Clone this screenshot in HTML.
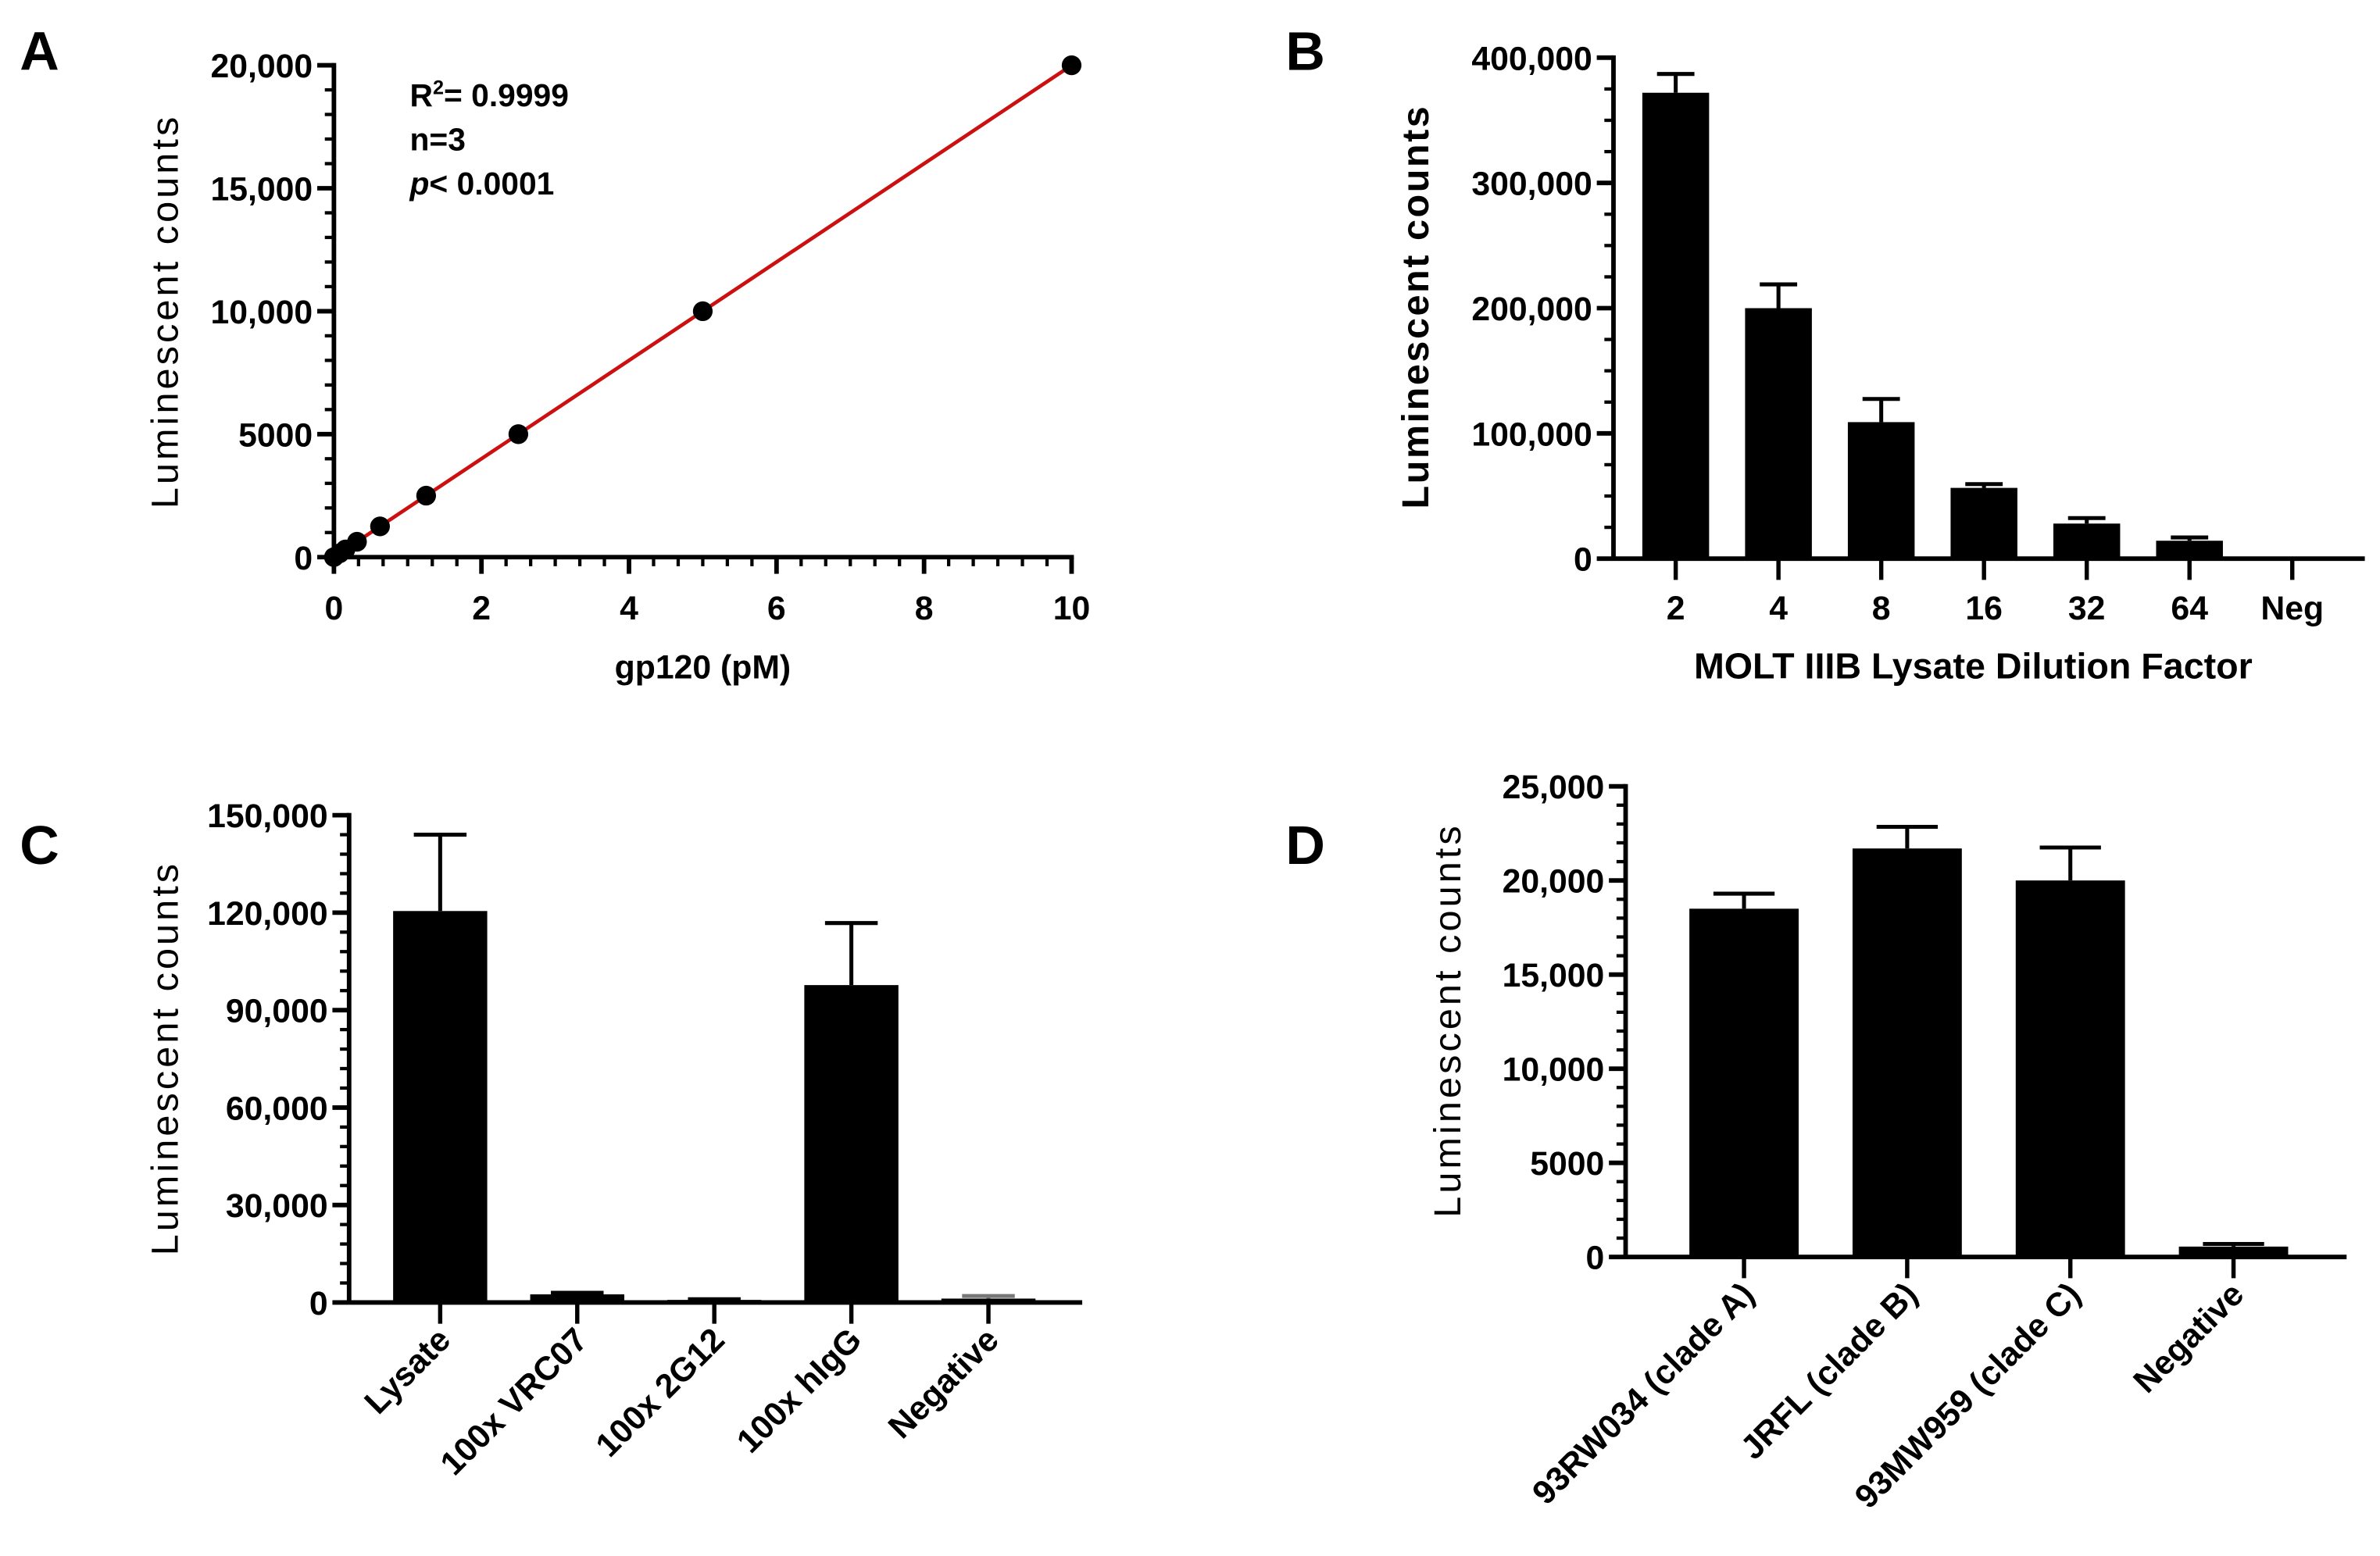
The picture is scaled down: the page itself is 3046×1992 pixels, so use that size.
<!DOCTYPE html>
<html><head><meta charset="utf-8"><style>
html,body{margin:0;padding:0;background:#fff;}
svg{display:block;}
text{font-family:"Liberation Sans",Arial,sans-serif;fill:#000;}
</style></head><body>
<svg id="fig" width="3046" height="1992" viewBox="0 0 1568 1025" preserveAspectRatio="none" xmlns="http://www.w3.org/2000/svg">
<rect width="1568" height="1025" fill="#fff"/>
</svg>
<script>
// Panel A data
const aX = [0, 0.078, 0.156, 0.3125, 0.625, 1.25, 2.5, 5, 10];
const aY = [0, 156, 312, 625, 1250, 2500, 5000, 10000, 20000];
const aXTicks = [0, 2, 4, 6, 8, 10];
const aYTicks = [0, 5000, 10000, 15000, 20000];
const aYTickLabels = ["0", "5000", "10,000", "15,000", "20,000"];
// Panel B data
const bCats = ["2", "4", "8", "16", "32", "64", "Neg"];
const bVals = [372000, 200000, 109000, 56500, 28000, 14300, 0];
const bErr = [387000, 219000, 127500, 59500, 32400, 16900, 0];
const bYTicks = [0, 100000, 200000, 300000, 400000];
const bYTickLabels = ["0", "100,000", "200,000", "300,000", "400,000"];
// Panel C data
const cCats = ["Lysate", "100x VRC07", "100x 2G12", "100x hIgG", "Negative"];
const cVals = [120500, 2500, 800, 97700, 1200];
const cErr = [144000, 3000, 1000, 116800, 2000];
const cYTicks = [0, 30000, 60000, 90000, 120000, 150000];
const cYTickLabels = ["0", "30,000", "60,000", "90,000", "120,000", "150,000"];
// Panel D data
const dCats = ["93RW034 (clade A)", "JRFL (clade B)", "93MW959 (clade C)", "Negative"];
const dVals = [18500, 21700, 20000, 550];
const dErr = [19300, 22850, 21750, 690];
const dYTicks = [0, 5000, 10000, 15000, 20000, 25000];
const dYTickLabels = ["0", "5000", "10,000", "15,000", "20,000", "25,000"];

const NS = "http://www.w3.org/2000/svg";
const svg = document.getElementById("fig");
function el(tag, attrs, parent) {
  const e = document.createElementNS(NS, tag);
  for (const k in attrs) e.setAttribute(k, attrs[k]);
  (parent || svg).appendChild(e);
  return e;
}
function txt(s, attrs, parent) { const t = el("text", attrs, parent); t.textContent = s; return t; }
function line(x1, y1, x2, y2, w, parent, col) {
  return el("line", {x1, y1, x2, y2, stroke: col || "#000", "stroke-width": w}, parent);
}

function yAxis(g, ax, y0, y1, maxV, ticks, labels, minorStep, labelSize) {
  const ys = v => y0 - (v / maxV) * (y0 - y1);
  const axl = line(ax, y1 - 1.5, ax, y0, 3, g);
  
  
  for (let v = 0; v <= maxV + 1e-9; v += minorStep) line(ax - 6, ys(v), ax, ys(v), 2.2, g);
  ticks.forEach((v, i) => {
    line(ax - 11, ys(v), ax, ys(v), 3, g);
    const t = txt(labels[i], {x: ax - 14, y: ys(v) + 8, "text-anchor": "end", "font-size": labelSize, "font-weight": "bold"}, g);
    
    
  });
  return ys;
}

function yTitle(g, x, y, s, bold, size, spacing) {
  const t = txt(s, {x: 0, y: 0, transform: `translate(${x},${y}) rotate(-90)`, "text-anchor": "middle", "font-size": size, "font-weight": bold ? "bold" : "normal", "letter-spacing": spacing}, g);
  
  
}

function panelLabel(s, x, y) {
  const t = txt(s, {x, y, "font-size": 36, "font-weight": "bold"});
  
  
}

function barPanel(name, cfg, cats, vals, errs, ticks, labels) {
  const g = el("g", {});
  
  
  const ys = yAxis(g, cfg.ax, cfg.y0, cfg.y1, cfg.max, ticks, labels, cfg.minor, 22);
  cats.forEach((c, i) => {
    const cx = cfg.c0 + i * cfg.step;
    const top = ys(vals[i]);
    const et = ys(errs[i]);
    const ecol = cfg.grayLast && i === cats.length - 1 ? "#777" : "#000";
    const eb = line(cx, top, cx, et, 2.6, g, ecol);
    
    
    line(cx - cfg.bw * 0.28, et, cx + cfg.bw * 0.28, et, 2.6, g, ecol);
    const r = el("rect", {x: cx - cfg.bw / 2, y: top, width: cfg.bw, height: Math.max(cfg.y0 - top, 0), fill: "#000"}, g);
    
    
    line(cx, cfg.y0, cx, cfg.y0 + 14, 2.8, g);
    let t;
    if (cfg.rot) {
      t = txt(c, {x: 0, y: 0, transform: `translate(${cx + 8},${cfg.y0 + 26}) rotate(-45)`, "text-anchor": "end", "font-size": 22, "font-weight": "bold"}, g);
    } else {
      t = txt(c, {x: cx, y: cfg.y0 + 40, "text-anchor": "middle", "font-size": 22, "font-weight": "bold"}, g);
    }
    
    
  });
  const xl = line(cfg.ax, cfg.y0, cfg.xEnd, cfg.y0, 3, g);
  
  
  return g;
}

// ---- Panel A ----
(function () {
  const g = el("g", {});
  
  
  const ax = 220, y0 = 367, y1 = 43, xEnd = 706;
  const ys = yAxis(g, ax, y0, y1, 20000, aYTicks, aYTickLabels, 1000, 22);
  const xs = v => ax + (v / 10) * (xEnd - ax);
  line(ax, y0, xEnd + 1.5, y0, 3, g);
  for (let v = 0; v <= 10 + 1e-9; v += 1 / 3) line(xs(v), y0, xs(v), y0 + 6, 2.2, g);
  aXTicks.forEach(v => {
    line(xs(v), y0, xs(v), y0 + 11, 3, g);
    const t = txt(String(v), {x: xs(v), y: y0 + 41, "text-anchor": "middle", "font-size": 22, "font-weight": "bold"}, g);
    
    
  });
  const fit = line(xs(aX[0]), ys(aY[0]), xs(aX[aX.length - 1]), ys(aY[aY.length - 1]), 2.4, g, "#cc1010");
  
  
  aX.forEach((v, i) => {
    const c = el("circle", {cx: xs(v), cy: ys(aY[i]), r: 6.5, fill: "#000"}, g);
    
    
  });
  const xt = txt("gp120 (pM)", {x: 463, y: 447, "text-anchor": "middle", "font-size": 22, "font-weight": "bold"}, g);
  
  
  yTitle(g, 117, 205, "Luminescent counts", false, 25, 2.1);
  const ann = el("g", {"font-size": 21, "font-weight": "bold"}, g);
  
  
  const t1 = txt("", {x: 270, y: 70, "font-size": 21}, ann);
  t1.innerHTML = 'R<tspan dy="-8" font-size="13">2</tspan><tspan dy="8">= 0.9999</tspan>';
  txt("n=3", {x: 270, y: 99, "font-size": 21}, ann);
  const t3 = txt("", {x: 270, y: 128, "font-size": 21}, ann);
  t3.innerHTML = '<tspan font-style="italic">p</tspan>&lt; 0.0001';
})();
panelLabel("A", 13, 46);

// ---- Panel B ----
barPanel("panel-b-dilution", {ax: 1063, y0: 368, y1: 38, max: 400000, minor: 25000, c0: 1104, step: 67.7, bw: 44, xEnd: 1558}, bCats, bVals, bErr, bYTicks, bYTickLabels);
(function () {
  const t = txt("MOLT IIIB Lysate Dilution Factor", {x: 1300, y: 447, "text-anchor": "middle", "font-size": 24, "font-weight": "bold"});
  
  
  yTitle(svg, 941, 202, "Luminescent counts", true, 25, 1.3);
})();
panelLabel("B", 847, 46);

// ---- Panel C ----
barPanel("panel-c-competition", {ax: 230, y0: 858, y1: 537, max: 150000, minor: 6000, c0: 290, step: 90.3, bw: 62, xEnd: 713, rot: true, grayLast: true}, cCats, cVals, cErr, cYTicks, cYTickLabels);
yTitle(svg, 117, 697, "Luminescent counts", false, 25, 2.1);
panelLabel("C", 13, 569);

// ---- Panel D ----
barPanel("panel-d-clades", {ax: 1071, y0: 828, y1: 518, max: 25000, minor: 1000, c0: 1149, step: 107.5, bw: 72, xEnd: 1546, rot: true}, dCats, dVals, dErr, dYTicks, dYTickLabels);
yTitle(svg, 962, 672, "Luminescent counts", false, 25, 2.1);
panelLabel("D", 847, 569);
</script>
</body></html>
